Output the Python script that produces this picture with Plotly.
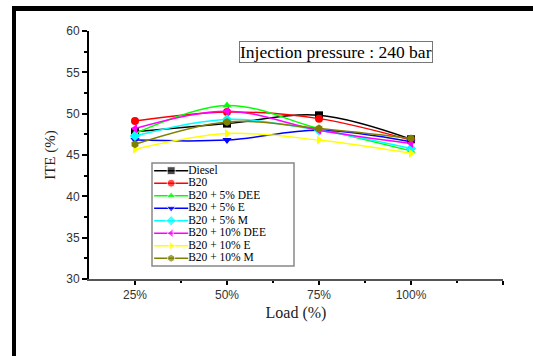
import plotly.graph_objects as go

loads = ["25%", "50%", "75%", "100%"]
series_names = ["Diesel", "B20", "B20 + 5% DEE", "B20 + 5% E", "B20 + 5% M",
                "B20 + 10% DEE", "B20 + 10% E", "B20 + 10% M"]
diesel = [47.8, 48.8, 49.8, 46.9]
b20 = [49.1, 50.2, 49.4, 46.8]
b20_5dee = [47.6, 51.0, 48.2, 45.5]
b20_5e = [46.8, 46.8, 48.0, 46.6]
b20_5m = [47.3, 49.3, 48.0, 45.8]
b20_10dee = [48.2, 50.3, 48.0, 46.4]
b20_10e = [45.7, 47.6, 46.8, 45.2]
b20_10m = [46.3, 49.0, 48.2, 47.0]
values = [diesel, b20, b20_5dee, b20_5e, b20_5m, b20_10dee, b20_10e, b20_10m]

colors = ["#000000", "#ff0000", "#00ff00", "#0000ff", "#00ffff", "#ff00ff", "#ffff00", "#808000"]
symbols = ["square", "circle", "triangle-up", "triangle-down", "diamond",
           "triangle-left", "triangle-right", "hexagon"]

W, H = 533, 356
L, R, T, B = 89, 30, 31, 77
pw, ph = W - L - R, H - T - B

def px(x):
    return (x - L) / pw

def py(y):
    return (H - B - y) / ph

xpos = list(range(len(loads)))
fig = go.Figure()
for name, vals, c, s in zip(series_names, values, colors, symbols):
    fig.add_trace(go.Scatter(
        x=xpos, y=vals, mode="lines+markers", name=name,
        line=dict(color=c, width=1.5, shape="spline"),
        marker=dict(symbol=s, color=c, size=8),
        showlegend=False, xaxis="x", yaxis="y"))

# custom compact legend drawn on an overlay axis
for i, (name, c, s) in enumerate(zip(series_names, colors, symbols)):
    fig.add_trace(go.Scatter(
        x=[0.015, 0.135, 0.255], y=[i, i, i], mode="lines+markers",
        line=dict(color=c, width=1.5),
        marker=dict(symbol=s, color=c, size=[0, 8, 0]),
        showlegend=False, xaxis="x2", yaxis="y2", hoverinfo="skip"))
    fig.add_trace(go.Scatter(
        x=[0.255], y=[i], mode="text", text=[name], textposition="middle right",
        textfont=dict(family="Liberation Serif", size=11.5, color="#000"),
        showlegend=False, xaxis="x2", yaxis="y2", hoverinfo="skip"))

leg_x0, leg_x1, leg_y0, leg_y1 = 152, 294, 163, 266
row0, rstep = 170.7, 12.5
top_u = -(row0 - leg_y0) / rstep
bot_u = top_u + (leg_y1 - leg_y0) / rstep

tickfont = dict(family="Liberation Sans", size=12, color="#333")

fig.update_layout(
    width=W, height=H, margin=dict(l=L, r=R, t=T, b=B),
    paper_bgcolor="white", plot_bgcolor="white",
    xaxis=dict(range=[-0.5, 4], tickmode="array", tickvals=[0, 1, 2, 3, 4],
               ticktext=loads + [""], showline=True, linecolor="#555", linewidth=2,
               ticks="outside", ticklen=4, tickwidth=1.5, tickcolor="#000",
               minor=dict(tickmode="array", tickvals=[0.5, 1.5, 2.5, 3.5], ticks="outside",
                          ticklen=2, tickwidth=1.5, tickcolor="#000"),
               showgrid=False, zeroline=False, tickfont=tickfont,
               title=dict(text="Load (%)", font=dict(family="Liberation Serif", size=16, color="#222"),
                          standoff=5)),
    yaxis=dict(range=[30, 60], dtick=5, showline=True, linecolor="#000", linewidth=2,
               ticks="outside", ticklen=5, tickwidth=1.5, tickcolor="#000",
               minor=dict(dtick=2.5, ticks="outside", ticklen=3, tickwidth=1.5, tickcolor="#000"),
               showgrid=False, zeroline=False, tickfont=tickfont,
               title=dict(text="ITE (%)", font=dict(family="Liberation Serif", size=15, color="#222"),
                          standoff=7)),
    xaxis2=dict(domain=[px(leg_x0), px(leg_x1)], range=[0, 1], anchor="y2", visible=False,
                fixedrange=True),
    yaxis2=dict(domain=[py(leg_y1), py(leg_y0)], range=[bot_u, top_u], anchor="x2", visible=False,
                fixedrange=True),
    shapes=[
        dict(type="rect", xref="paper", yref="paper", x0=px(leg_x0), x1=px(leg_x1),
             y0=py(leg_y1), y1=py(leg_y0), line=dict(color="#888", width=1.5)),
        dict(type="rect", xref="paper", yref="paper", x0=px(12), x1=px(W + 5),
             y0=py(11), y1=py(6), line=dict(width=0), fillcolor="#000"),
        dict(type="rect", xref="paper", yref="paper", x0=px(12), x1=px(16),
             y0=py(H + 5), y1=py(6), line=dict(width=0), fillcolor="#000"),
    ],
    annotations=[
        dict(text="Injection pressure : 240 bar", xref="paper", yref="paper",
             x=px(335.5), y=py(51.5), showarrow=False, xanchor="center", yanchor="middle",
             font=dict(family="Liberation Serif", size=17.5, color="#000"),
             bordercolor="#777", borderwidth=1, borderpad=0, bgcolor="white"),
    ],
)

fig.write_html("out.html")
